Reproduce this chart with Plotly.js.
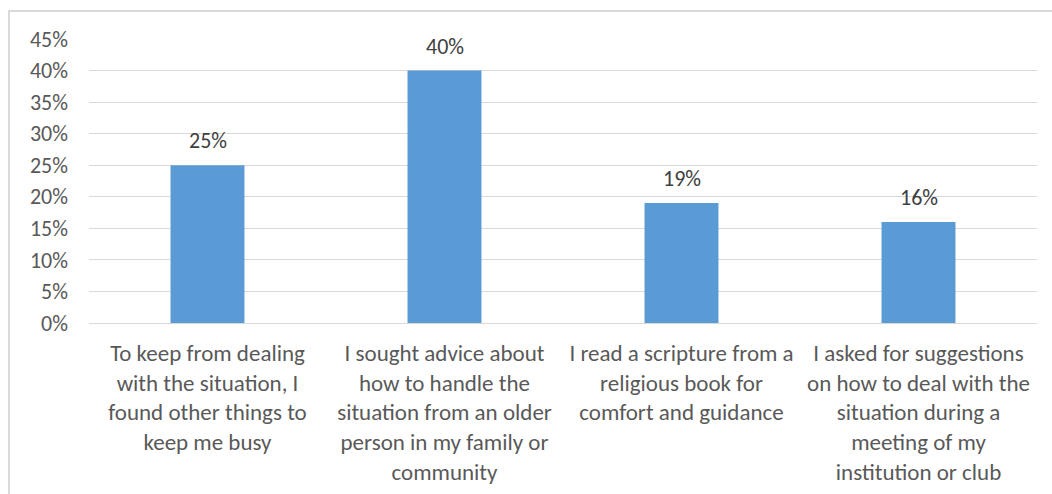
<!DOCTYPE html>
<html>
<head>
<meta charset="utf-8">
<script src="https://cdn.plot.ly/plotly-3.0.1.min.js"></script>
<style>
html,body{margin:0;padding:0;background:#fff;overflow:hidden;width:1052px;height:494px;}
#frame{position:absolute;left:8px;top:10px;width:1100px;height:600px;border:2px solid #d9d9d9;box-sizing:border-box;}
#chart{position:absolute;left:0;top:0;width:1052px;height:494px;}
</style>
</head>
<body>
<div id="frame"></div>
<div id="chart"></div>
<script>
const categories = [
  "To keep from dealing<br>with the situation, I<br>found other things to<br>keep me busy",
  "I sought advice about<br>how to handle the<br>situation from an older<br>person in my family or<br>community",
  "I read a scripture from a<br>religious book for<br>comfort and guidance",
  "I asked for suggestions<br>on how to deal with the<br>situation during a<br>meeting of my<br>institution or club"
];
const values = [0.25, 0.40, 0.19, 0.16];
const valueLabels = ["25%", "40%", "19%", "16%"];

const fontFamily = "Carlito, Calibri, Lato, 'Open Sans', sans-serif";

const trace = {
  type: 'bar',
  x: categories,
  y: values,
  marker: {color: '#5B9BD5'},
  hoverinfo: 'none'
};

const annotations = categories.map((c, i) => ({
  x: c, y: values[i], xref: 'x', yref: 'y',
  text: valueLabels[i], showarrow: false,
  yanchor: 'bottom', yshift: 9,
  font: {family: fontFamily, size: 22, color: '#404040'}
}));

const layout = {
  width: 1052, height: 494,
  margin: {l: 89, r: 15, t: 39, b: 171, pad: 0},
  paper_bgcolor: 'rgba(0,0,0,0)',
  plot_bgcolor: 'rgba(0,0,0,0)',
  bargap: 0.688,
  showlegend: false,
  font: {family: fontFamily, color: '#595959', size: 22},
  xaxis: {
    type: 'category',
    showgrid: false,
    showline: true, linecolor: '#d9d9d9', linewidth: 1,
    ticks: '',
    tickangle: 0,
    ticklabelstandoff: 9,
    tickfont: {family: fontFamily, size: 23, color: '#595959'}
  },
  yaxis: {
    range: [0, 0.45],
    dtick: 0.05,
    tickformat: '.0%',
    showgrid: true, gridcolor: '#d9d9d9', gridwidth: 1,
    zeroline: false,
    showline: false,
    ticks: '',
    ticklabelstandoff: 20,
    tickfont: {family: fontFamily, size: 22, color: '#595959'}
  },
  annotations: annotations
};

Plotly.newPlot('chart', [trace], layout, {displayModeBar: false, staticPlot: true});
</script>
</body>
</html>
